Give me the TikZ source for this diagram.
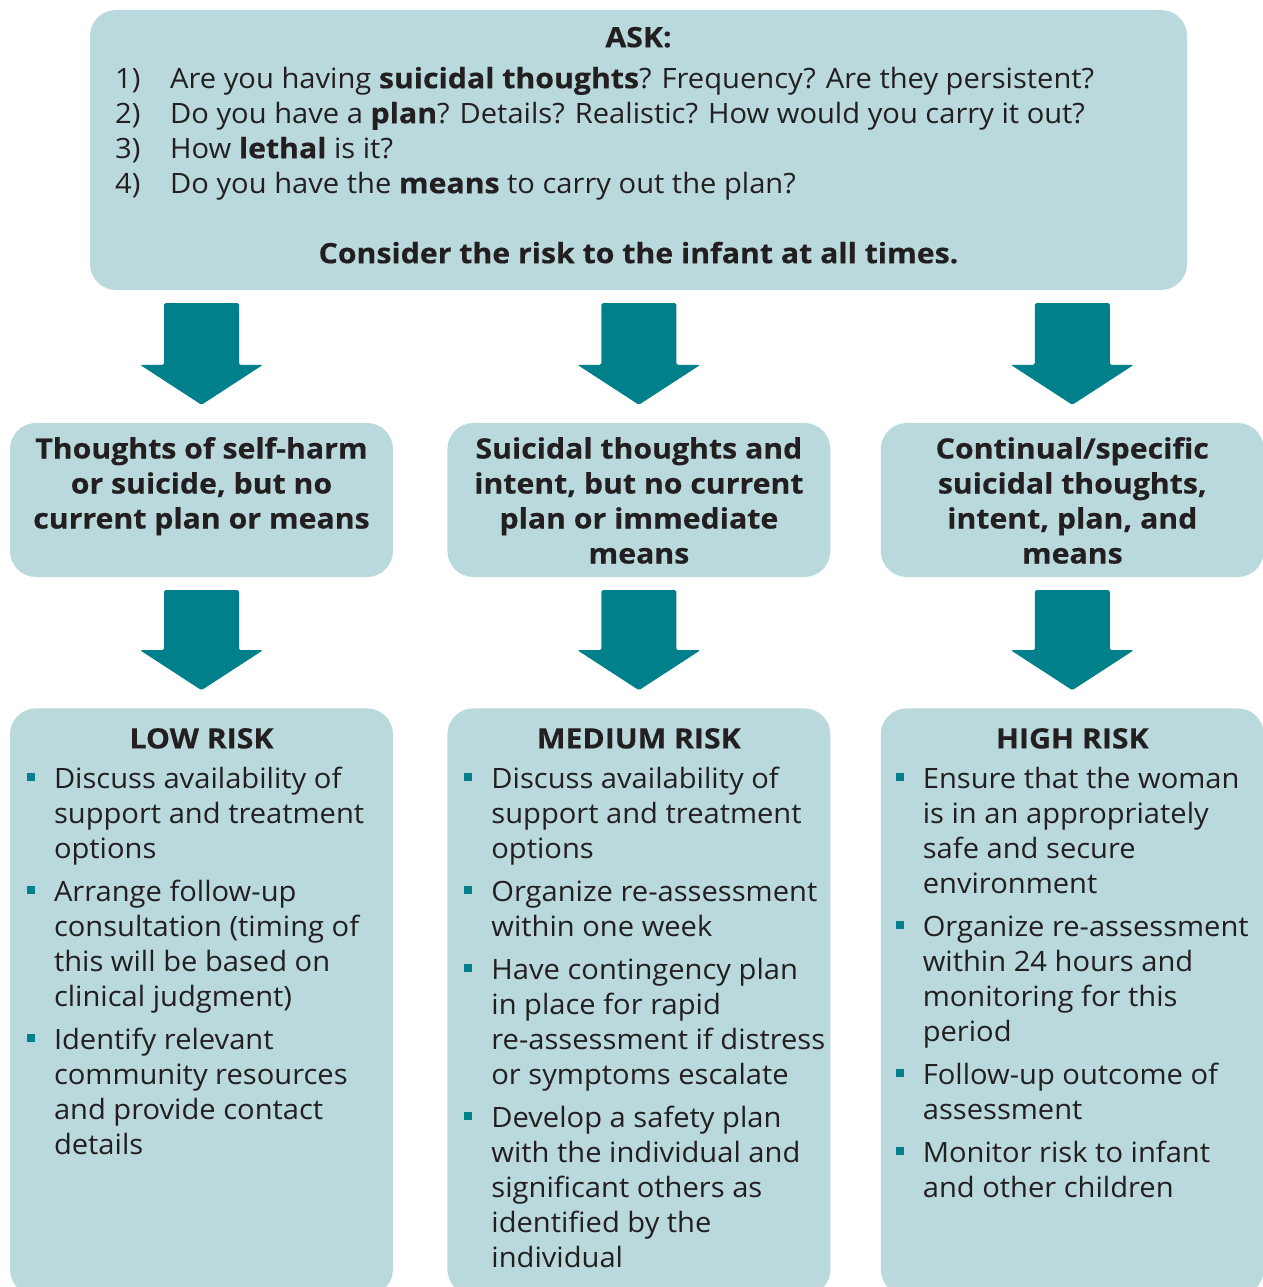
\documentclass[tikz,border=0pt]{standalone}
\usepackage{fontspec}
\setmainfont{Open Sans}[FakeStretch=1.04, BoldFeatures={FakeStretch=1.08, FakeBold=0.4}]
\usepackage{xcolor}
\usetikzlibrary{positioning, calc}

\definecolor{boxfill}{HTML}{B9D9DC}
\definecolor{arrowteal}{HTML}{00808A}
\definecolor{inkdark}{HTML}{231F20}

% small square bullet hung in the left margin
\newcommand{\bul}{\llap{\textcolor{arrowteal}{\rule[7pt]{8pt}{8pt}}\hspace{19pt}}}
% broad down arrow from one box to the next
\newcommand{\blockarrow}[2]{%
  \fill[arrowteal, rounded corners=1.5pt]
    ($(#1)+(-37.5,13)$) -- ($(#1)+(37.5,13)$) -- ($(#2)+(37.5,-58)$) -- ($(#2)+(61.5,-58)$)
    -- ($(#2)+(0,-18)$) -- ($(#2)+(-61.5,-58)$) -- ($(#2)+(-37.5,-58)$) -- cycle;}

\begin{document}
\begin{tikzpicture}[
    x=1pt, y=-1pt,
    every node/.style={text=inkdark},
    box/.style={fill=boxfill, rounded corners=26pt, minimum width=383pt, inner sep=0pt},
    headtext/.style={font=\fontsize{28}{35}\selectfont\bfseries, align=center, inner sep=0pt},
    listtext/.style={font=\fontsize{28}{35}\selectfont, align=left, inner sep=0pt}
]
    \useasboundingbox (0,0) rectangle (1262,1287);

    % Question box
    \node[box, minimum width=1097pt, minimum height=280pt] (ask) at (638.5,150) {};
    \node[headtext, anchor=north] (asktitle) at (638.5,22.5) {\strut ASK:};
    \node[listtext, anchor=north west] (asklist) at (115,63.5) {%
        \strut\makebox[55pt][l]{1)}Are you having \textbf{suicidal thoughts}? Frequency? Are they persistent?\\
        \makebox[55pt][l]{2)}Do you have a \textbf{plan}? Details? Realistic? How would you carry it out?\\
        \makebox[55pt][l]{3)}How \textbf{lethal} is it?\\
        \makebox[55pt][l]{4)}Do you have the \textbf{means} to carry out the plan?};
    \node[headtext, anchor=north] (askinfant) at (638.5,238.5) {\strut Consider the risk to the infant at all times.};

    % Condition boxes
    \node[box, minimum height=154pt] (cond1) at (201.5,500) {};
    \node[box, minimum height=154pt, right=54pt of cond1] (cond2) {};
    \node[box, minimum height=154pt, right=50pt of cond2] (cond3) {};
    \node[headtext, below=11pt of cond1.north] (cond1text) {\strut Thoughts of self-harm\\ or suicide, but no\\ current plan or means};
    \node[headtext, below=11pt of cond2.north] (cond2text) {\strut Suicidal thoughts and\\ intent, but no current\\ plan or immediate\\ means};
    \node[headtext, below=11pt of cond3.north] (cond3text) {\strut Continual/specific\\ suicidal thoughts,\\ intent, plan, and\\ means};

    % Risk boxes
    \node[box, minimum height=587pt, below=131pt of cond1] (risk1) {};
    \node[box, minimum height=587pt, below=131pt of cond2] (risk2) {};
    \node[box, minimum height=587pt, below=131pt of cond3] (risk3) {};
    \node[headtext, below=15.5pt of risk1.north] (risk1title) {\strut LOW RISK};
    \node[headtext, below=15.5pt of risk2.north] (risk2title) {\strut MEDIUM RISK};
    \node[headtext, below=15.5pt of risk3.north] (risk3title) {\strut HIGH RISK};
    \node[listtext, below right=55.5pt and 44pt of risk1.north west] (risk1list) {%
        \strut\bul Discuss availability of\\ support and treatment\\ options\\[8pt]
        \bul Arrange follow-up\\ consultation (timing of\\ this will be based on\\ clinical judgment)\\[8pt]
        \bul Identify relevant\\ community resources\\ and provide contact\\ details};
    \node[listtext, below right=55.5pt and 44pt of risk2.north west] (risk2list) {%
        \strut\bul Discuss availability of\\ support and treatment\\ options\\[8pt]
        \bul Organize re-assessment\\ within one week\\[8pt]
        \bul Have contingency plan\\ in place for rapid\\ re-assessment if distress\\ or symptoms escalate\\[8pt]
        \bul Develop a safety plan\\ with the individual and\\ significant others as\\ identified by the\\ individual};
    \node[listtext, below right=55.5pt and 42pt of risk3.north west] (risk3list) {%
        \strut\bul Ensure that the woman\\ is in an appropriately\\ safe and secure\\ environment\\[8pt]
        \bul Organize re-assessment\\ within 24 hours and\\ monitoring for this\\ period\\[8pt]
        \bul Follow-up outcome of\\ assessment\\[8pt]
        \bul Monitor risk to infant\\ and other children};

    % Arrows
    \blockarrow{ask.south -| cond1}{cond1.north}
    \blockarrow{ask.south -| cond2}{cond2.north}
    \blockarrow{ask.south -| cond3}{cond3.north}
    \blockarrow{cond1.south}{risk1.north}
    \blockarrow{cond2.south}{risk2.north}
    \blockarrow{cond3.south}{risk3.north}
\end{tikzpicture}
\end{document}
